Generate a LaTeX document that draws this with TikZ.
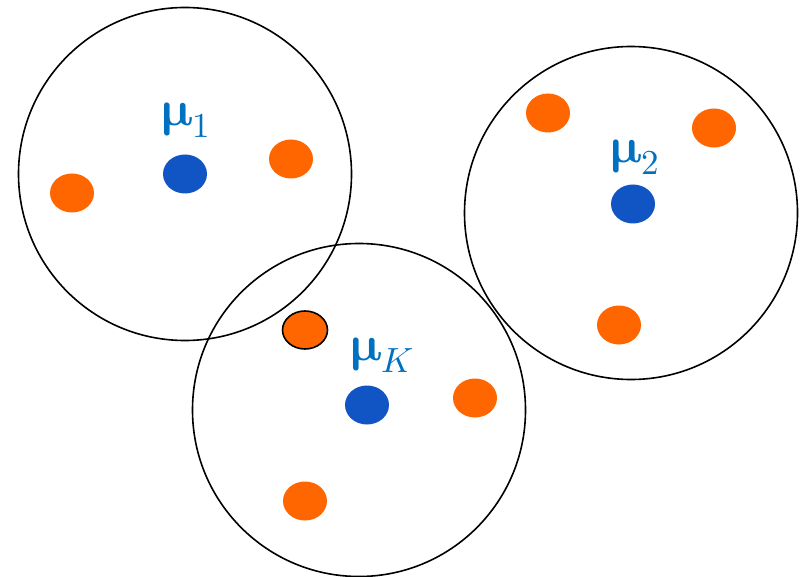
\documentclass[tikz,border=0pt]{standalone}
\usepackage{unicode-math}
\usepackage{tikz}
\definecolor{dotblue}{RGB}{17,85,197}
\definecolor{dotorange}{RGB}{255,102,0}
\definecolor{labblue}{RGB}{0,112,192}
\tikzset{
  cluster/.style={draw=black,line width=1.6pt,circle,minimum size=333pt,inner sep=0pt},
  centre/.style={fill=dotblue,ellipse,minimum width=44pt,minimum height=39pt,inner sep=0pt},
  point/.style={fill=dotorange,ellipse,minimum width=44pt,minimum height=39pt,inner sep=0pt},
  meanlab/.style={text=labblue,font=\fontsize{50}{54}\selectfont}
}
\usetikzlibrary{shapes.geometric}
\begin{document}
\begin{tikzpicture}[x=1pt,y=-1pt]
  \useasboundingbox (0,0) rectangle (808,577);
  % clusters
  \node[cluster] (c1) at (185,174) {};
  \node[cluster] (c2) at (631,213) {};
  \node[cluster] (cK) at (359,410) {};
  % centroids
  \node[centre] (m1) at (185,174) {};
  \node[centre] (m2) at (633,204) {};
  \node[centre] (mK) at (367,405) {};
  \node[meanlab] (l1) at (186,120) {$\symbfup{\mu}_1$};
  \node[meanlab] (l2) at (635,157) {$\symbfup{\mu}_2$};
  \node[meanlab] (lK) at (382,355) {$\symbfup{\mu}_K$};
  % data points
  \node[point] (p1) at (72,193) {};
  \node[point] (p2) at (291,159) {};
  \node[point] (p3) at (548,113) {};
  \node[point] (p4) at (714,128) {};
  \node[point] (p5) at (619,325) {};
  \node[point,draw=black,line width=1.6pt,minimum width=45pt,minimum height=38pt] (p6) at (305,330) {};
  \node[point] (p7) at (475,398) {};
  \node[point] (p8) at (305,501) {};
\end{tikzpicture}
\end{document}
